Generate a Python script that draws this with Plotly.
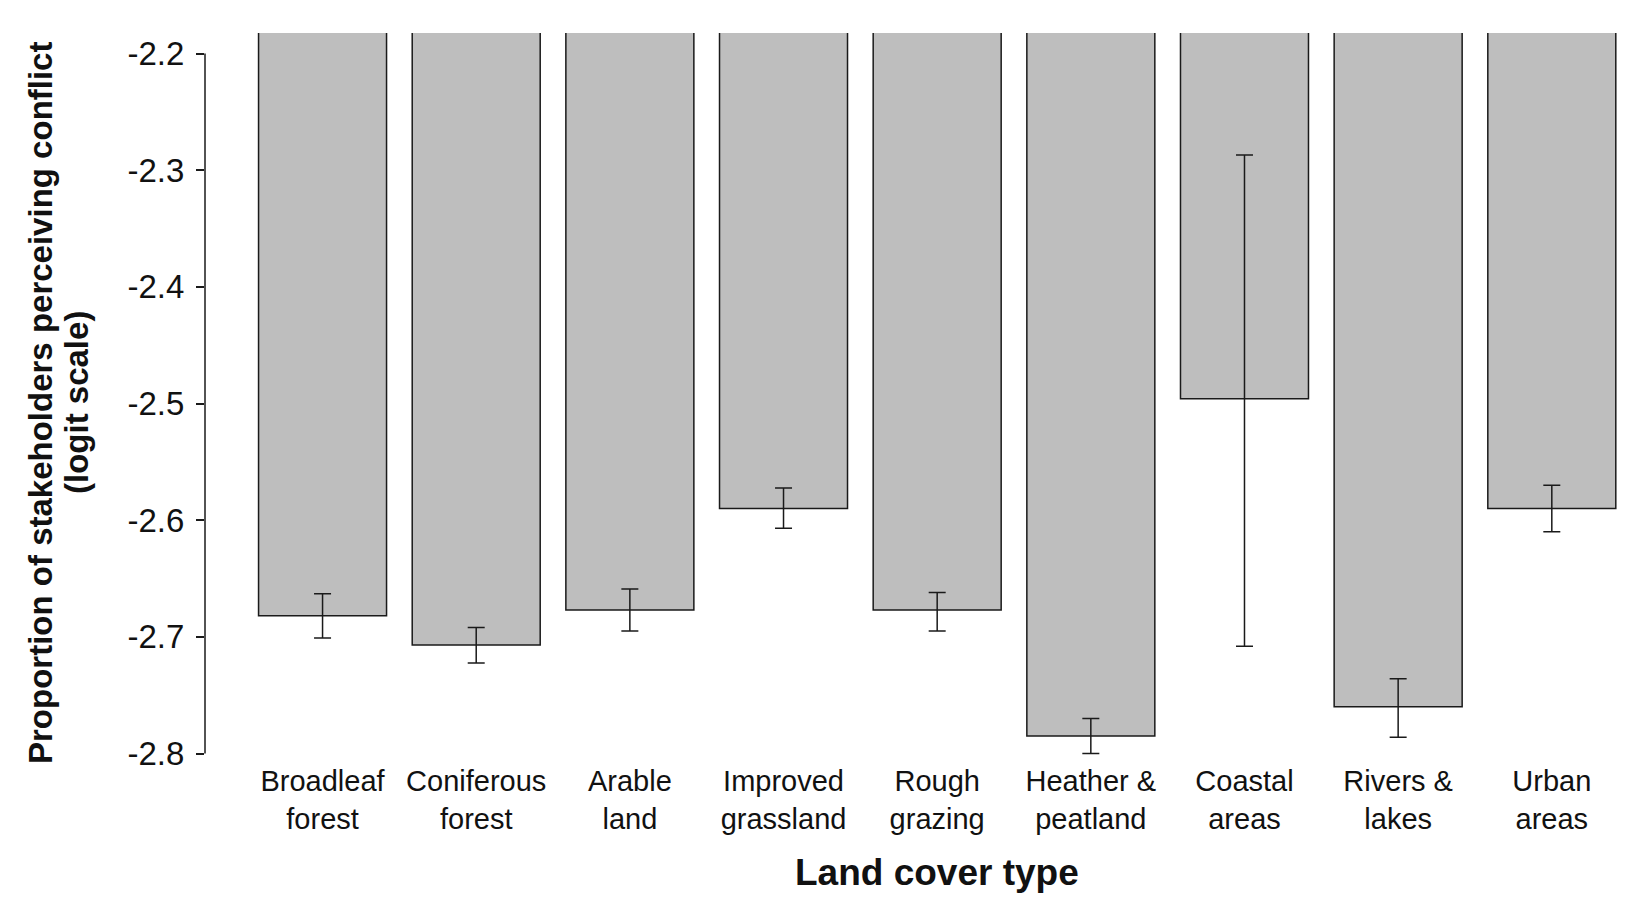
import plotly.graph_objects as go

categories = ["Broadleaf<br>forest", "Coniferous<br>forest", "Arable<br>land", "Improved<br>grassland",
              "Rough<br>grazing", "Heather &<br>peatland", "Coastal<br>areas", "Rivers &<br>lakes", "Urban<br>areas"]
values = [-2.682, -2.707, -2.677, -2.590, -2.677, -2.785, -2.496, -2.760, -2.590]
upper = [-2.663, -2.692, -2.659, -2.5725, -2.662, -2.770, -2.287, -2.736, -2.570]
lower = [-2.701, -2.7225, -2.695, -2.607, -2.695, -2.800, -2.708, -2.786, -2.610]
y_ticks = [-2.8, -2.7, -2.6, -2.5, -2.4, -2.3, -2.2]
y_title_lines = ["Proportion of stakeholders perceiving conflict", "(logit scale)"]
x_title = "Land cover type"

err_plus = [u - v for u, v in zip(upper, values)]
err_minus = [v - l for v, l in zip(values, lower)]

FONT = "Liberation Sans, Arial, sans-serif"
INK = "#111111"

fig = go.Figure(go.Bar(
    x=categories, y=values,
    marker=dict(color="#bebebe", line=dict(color="#1a1a1a", width=1.5)),
    error_y=dict(type="data", symmetric=False, array=err_plus, arrayminus=err_minus,
                 color="#1a1a1a", thickness=1.5, width=8.5),
))

# y axis line only spans the tick range (base-R style)
fig.add_shape(type="line", xref="paper", yref="y", x0=0, x1=0, y0=y_ticks[0], y1=y_ticks[-1],
              line=dict(color="#1a1a1a", width=1.5))

# y-axis title (two lines, tight spacing)
for txt, xpx in zip(y_title_lines, [40, 76]):
    fig.add_annotation(text=f"<b>{txt}</b>", textangle=-90, showarrow=False,
                       xref="paper", yref="paper",
                       x=(xpx - 205) / (1644 - 205), y=(761 - 403) / 728,
                       xanchor="center", yanchor="middle",
                       font=dict(size=33, family=FONT, color=INK))

# x-axis title
fig.add_annotation(text=f"<b>{x_title}</b>", showarrow=False, xref="paper", yref="paper",
                   x=(936.5 - 205) / (1644 - 205), y=(761 - 872.5) / 728,
                   xanchor="center", yanchor="middle",
                   font=dict(size=37, family=FONT, color=INK))

fig.update_layout(
    width=1644, height=908,
    paper_bgcolor="white", plot_bgcolor="white",
    margin=dict(l=205, r=0, t=33, b=147),
    bargap=0.167,
    showlegend=False,
    font=dict(family=FONT, color=INK),
    xaxis=dict(
        range=[-0.765, 8.6], showline=False, showgrid=False, zeroline=False, ticks="",
        tickfont=dict(size=29, family=FONT, color=INK),
        automargin=False,
    ),
    yaxis=dict(
        range=[-2.8064, -2.1824], tickvals=y_ticks, ticktext=[f"{t:.1f}" for t in y_ticks],
        showline=False, showgrid=False, zeroline=False,
        ticks="outside", ticklen=8, tickwidth=1.5, tickcolor="#1a1a1a",
        ticklabelstandoff=5,
        tickfont=dict(size=33, family=FONT, color=INK),
        automargin=False,
    ),
)

fig.write_html("out.html", config={"displayModeBar": False},
               post_script="document.body.style.margin='0';")
